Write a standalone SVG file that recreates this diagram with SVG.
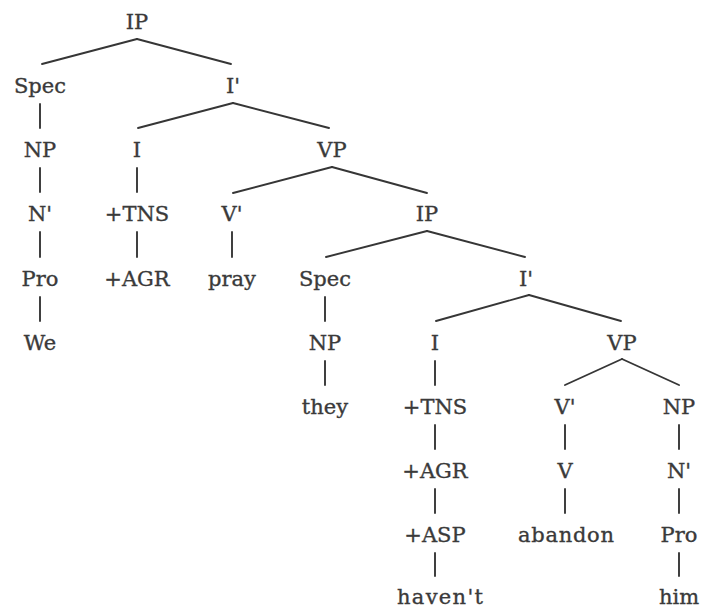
<svg xmlns="http://www.w3.org/2000/svg" width="704" height="610" viewBox="0 0 704 610">
  <style>
    text { font-family: "DejaVu Serif", "Liberation Serif", serif; font-size: 21px; fill: #3a3a3a; stroke: #3a3a3a; stroke-width: 0.35; text-anchor: middle; }
    .edges line { stroke: #363636; stroke-width: 1.9; stroke-linecap: round; }
  </style>
  <rect width="704" height="610" fill="#ffffff"/>

  <!-- tree branches -->
  <g class="edges">
    <!-- IP (matrix) -->
    <line x1="137" y1="39" x2="42" y2="64"/>
    <line x1="137" y1="39" x2="231" y2="64"/>
    <!-- Spec / NP / N' / Pro / We -->
    <line x1="40" y1="104" x2="40" y2="128"/>
    <line x1="40" y1="168" x2="40" y2="192"/>
    <line x1="40" y1="232" x2="40" y2="257"/>
    <line x1="40" y1="297" x2="40" y2="321"/>
    <!-- I' -->
    <line x1="233" y1="103" x2="138" y2="128"/>
    <line x1="233" y1="103" x2="329" y2="128"/>
    <!-- I / +TNS / +AGR -->
    <line x1="137" y1="168" x2="137" y2="192"/>
    <line x1="137" y1="232" x2="137" y2="257"/>
    <!-- VP -->
    <line x1="332" y1="167" x2="233" y2="193"/>
    <line x1="332" y1="167" x2="427" y2="193"/>
    <!-- V' / pray -->
    <line x1="232" y1="232" x2="232" y2="257"/>
    <!-- IP (embedded) -->
    <line x1="427" y1="231" x2="326" y2="257"/>
    <line x1="427" y1="231" x2="525" y2="257"/>
    <!-- Spec / NP / they -->
    <line x1="325" y1="297" x2="325" y2="321"/>
    <line x1="325" y1="361" x2="325" y2="385"/>
    <!-- I' (embedded) -->
    <line x1="529" y1="295" x2="436" y2="321"/>
    <line x1="529" y1="295" x2="621" y2="321"/>
    <!-- I / +TNS / +AGR / +ASP / haven't -->
    <line x1="435" y1="361" x2="435" y2="385"/>
    <line x1="435" y1="425" x2="435" y2="449"/>
    <line x1="435" y1="489" x2="435" y2="513"/>
    <line x1="435" y1="553" x2="435" y2="576"/>
    <!-- VP (embedded) -->
    <line x1="622" y1="359" x2="565" y2="385"/>
    <line x1="622" y1="359" x2="679" y2="385"/>
    <!-- V' / V / abandon -->
    <line x1="565" y1="425" x2="565" y2="449"/>
    <line x1="565" y1="489" x2="565" y2="513"/>
    <!-- NP / N' / Pro / him -->
    <line x1="679" y1="425" x2="679" y2="449"/>
    <line x1="679" y1="489" x2="679" y2="513"/>
    <line x1="679" y1="553" x2="679" y2="576"/>
  </g>

  <!-- labels -->
  <g id="ip1"><text x="137" y="29">IP</text></g>
  <g id="spec1"><text x="40" y="93">Spec</text></g>
  <g id="ibar1"><text x="233" y="93">I'</text></g>
  <g id="np1"><text x="40" y="157">NP</text></g>
  <g id="i1"><text x="137" y="157">I</text></g>
  <g id="vp1"><text x="332" y="157">VP</text></g>
  <g id="nbar1"><text x="40" y="221">N'</text></g>
  <g id="tns1"><text x="137" y="221">+TNS</text></g>
  <g id="vbar1"><text x="232" y="221">V'</text></g>
  <g id="ip2"><text x="427" y="221">IP</text></g>
  <g id="pro1"><text x="40" y="286">Pro</text></g>
  <g id="agr1"><text x="137" y="286">+AGR</text></g>
  <g id="pray"><text x="232" y="286">pray</text></g>
  <g id="spec2"><text x="325" y="286">Spec</text></g>
  <g id="ibar2"><text x="526" y="286">I'</text></g>
  <g id="we"><text x="40" y="350">We</text></g>
  <g id="np2"><text x="325" y="350">NP</text></g>
  <g id="i2"><text x="435" y="350">I</text></g>
  <g id="vp2"><text x="622" y="350">VP</text></g>
  <g id="they"><text x="325" y="414">they</text></g>
  <g id="tns2"><text x="435" y="414">+TNS</text></g>
  <g id="vbar2"><text x="565" y="414">V'</text></g>
  <g id="np3"><text x="679" y="414">NP</text></g>
  <g id="agr2"><text x="435" y="478">+AGR</text></g>
  <g id="v"><text x="565" y="478">V</text></g>
  <g id="nbar2"><text x="679" y="478">N'</text></g>
  <g id="asp"><text x="435" y="542">+ASP</text></g>
  <g id="abandon"><text x="566" y="542" textLength="96" lengthAdjust="spacing">abandon</text></g>
  <g id="pro2"><text x="679" y="542">Pro</text></g>
  <g id="havent"><text x="440" y="604" textLength="86" lengthAdjust="spacing">haven't</text></g>
  <g id="him"><text x="679" y="604">him</text></g>
</svg>
